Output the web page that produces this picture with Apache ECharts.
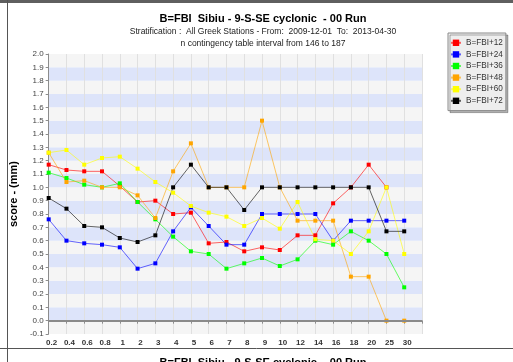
<!DOCTYPE html>
<html>
<head>
<meta charset="utf-8">
<script src="https://cdn.jsdelivr.net/npm/echarts@6/dist/echarts.min.js"></script>
<style>
  html, body { margin: 0; padding: 0; background: #ffffff; }
  #chart { width: 513px; height: 362px; }
</style>
</head>
<body>
<div id="chart"></div>
<script>
// Thresholds (mm) on the x axis; trailing '' closes the plot
const categories = ['0.2', '0.4', '0.6', '0.8', '1', '2', '3', '4', '5', '6', '7', '8', '9', '10', '12', '14', '16', '18', '20', '25', '30', ''];

// Score per threshold for each forecast lead
const fbi12 = [1.17, 1.13, 1.12, 1.12, 1.01, 0.89, 0.90, 0.80, 0.81, 0.58, 0.59, 0.52, 0.55, 0.53, 0.64, 0.64, 0.88, 1.00, 1.17, 1.00, null];
const fbi24 = [0.76, 0.60, 0.58, 0.57, 0.55, 0.39, 0.43, 0.67, 0.85, 0.71, 0.57, 0.57, 0.80, 0.80, 0.80, 0.80, 0.60, 0.75, 0.75, 0.75, 0.75];
const fbi36 = [1.11, 1.07, 1.02, 1.00, 1.03, 0.89, 0.76, 0.63, 0.52, 0.50, 0.39, 0.43, 0.47, 0.41, 0.46, 0.60, 0.57, 0.67, 0.60, 0.50, 0.25];
const fbi48 = [1.26, 1.04, 1.05, 1.00, 1.00, 0.94, 0.77, 1.12, 1.33, 1.00, 1.00, 1.00, 1.50, 1.00, 0.75, 0.75, 0.75, 0.33, 0.33, 0.00, 0.00];
const fbi60 = [1.26, 1.28, 1.17, 1.22, 1.23, 1.14, 1.04, 0.96, 0.86, 0.81, 0.78, 0.71, 0.77, 0.69, 0.89, 0.61, 0.60, 0.50, 0.67, 1.00, 0.50];
const fbi72 = [0.92, 0.84, 0.71, 0.70, 0.62, 0.59, 0.64, 1.00, 1.17, 1.00, 1.00, 0.83, 1.00, 1.00, 1.00, 1.00, 1.00, 1.00, 1.00, 0.67, 0.67];

const seriesNames = ['B=FBI+12', 'B=FBI+24', 'B=FBI+36', 'B=FBI+48', 'B=FBI+60', 'B=FBI+72'];
const seriesData = [fbi12, fbi24, fbi36, fbi48, fbi60, fbi72];
const seriesColors = ['#ff0000', '#0000ff', '#00ff00', '#ffa500', '#ffff00', '#000000'];

const titleText = 'B=FBI  Sibiu - 9-S-SE cyclonic  - 00 Run';
const subtitleText = 'Stratification :  All Greek Stations - From:  2009-12-01  To:  2013-04-30';
const intervalText = 'n contingency table interval from 146 to 187';
const yAxisName = 'score - (mm)';

const FONT = '"Liberation Sans", Arial, sans-serif';

const chart = echarts.init(document.getElementById('chart'), null, { renderer: 'canvas' });

const series = seriesNames.map((name, i) => ({
  name: name,
  type: 'line',
  data: seriesData[i],
  symbol: 'rect',
  symbolSize: 4,
  showSymbol: true,
  connectNulls: false,
  animation: false,
  itemStyle: { color: seriesColors[i] },
  lineStyle: { color: seriesColors[i], width: 1, opacity: 0.6 },
  emphasis: { disabled: true }
}));

// Zero reference line
series[0].markLine = {
  silent: true,
  symbol: 'none',
  label: { show: false },
  lineStyle: { color: '#8a8a8a', width: 2, type: 'solid', opacity: 1 },
  data: [{ yAxis: 0 }]
};

chart.setOption({
  backgroundColor: '#ffffff',
  animation: false,
  grid: { left: 37.5, top: 54, right: 91, bottom: 28, containLabel: false },
  xAxis: {
    type: 'category',
    data: categories,
    boundaryGap: false,
    axisLine: { show: true, lineStyle: { color: '#8c8c8c', width: 1 } },
    axisTick: { show: true, alignWithLabel: true, length: 3, lineStyle: { color: '#8c8c8c' } },
    axisLabel: {
      interval: 0,
      fontFamily: FONT, fontSize: 8, fontWeight: 'bold', color: '#333',
      margin: 5, padding: [0, 0, 0, 6]
    },
    splitLine: { show: true, interval: 0, lineStyle: { color: '#e0e0e0', width: 1 } }
  },
  yAxis: {
    type: 'value',
    min: -0.1,
    max: 2.0,
    interval: 0.1,
    name: yAxisName,
    nameLocation: 'middle',
    nameGap: 21,
    nameRotate: 90,
    nameTextStyle: { fontFamily: FONT, fontSize: 11, fontWeight: 'bold', color: '#000' },
    axisLine: { show: true, lineStyle: { color: '#8c8c8c', width: 1 } },
    axisTick: { show: true, length: 3, lineStyle: { color: '#8c8c8c' } },
    axisLabel: {
      fontFamily: FONT, fontSize: 8, color: '#444', margin: 5,
      formatter: v => (Math.round(v * 10) / 10).toFixed(1)
    },
    splitLine: { show: false },
    splitArea: { show: true, areaStyle: { color: ['#f5f5f5', '#dde4fa'] } }
  },
  legend: {
    orient: 'vertical',
    left: 448,
    top: 33,
    padding: [5, 3, 5, 2],
    itemGap: 2,
    itemWidth: 10,
    itemHeight: 8,
    backgroundColor: '#eeeeee',
    borderColor: '#8a8a8a',
    borderWidth: 1,
    shadowColor: 'rgba(0,0,0,0.3)',
    shadowBlur: 0,
    shadowOffsetX: 2,
    shadowOffsetY: 2,
    textStyle: { fontFamily: FONT, fontSize: 8.2, lineHeight: 9.6, color: '#333' },
    data: seriesNames,
    selectedMode: false
  },
  graphic: [
    { type: 'rect', left: 0, top: 0, shape: { width: 513, height: 3 }, style: { fill: '#5f5f5f' }, silent: true },
    { type: 'line', shape: { x1: 7.5, y1: 0, x2: 7.5, y2: 362 }, style: { stroke: '#555', lineWidth: 1 }, silent: true },
    { type: 'line', shape: { x1: 0, y1: 348.5, x2: 513, y2: 348.5 }, style: { stroke: '#555', lineWidth: 1 }, silent: true },
    { type: 'text', x: 263, y: 19, style: { text: titleText, fontFamily: FONT, fontSize: 11, fontWeight: 'bold', fill: '#000', textAlign: 'center', textVerticalAlign: 'middle' }, silent: true },
    { type: 'text', x: 263, y: 32, style: { text: subtitleText, fontFamily: FONT, fontSize: 8.5, fill: '#222', textAlign: 'center', textVerticalAlign: 'middle' }, silent: true },
    { type: 'text', x: 263, y: 44, style: { text: intervalText, fontFamily: FONT, fontSize: 8.5, fill: '#222', textAlign: 'center', textVerticalAlign: 'middle' }, silent: true },
    { type: 'text', x: 263, y: 363, style: { text: titleText, fontFamily: FONT, fontSize: 11, fontWeight: 'bold', fill: '#000', textAlign: 'center', textVerticalAlign: 'middle' }, silent: true }
  ],
  series: series
});
</script>
</body>
</html>
